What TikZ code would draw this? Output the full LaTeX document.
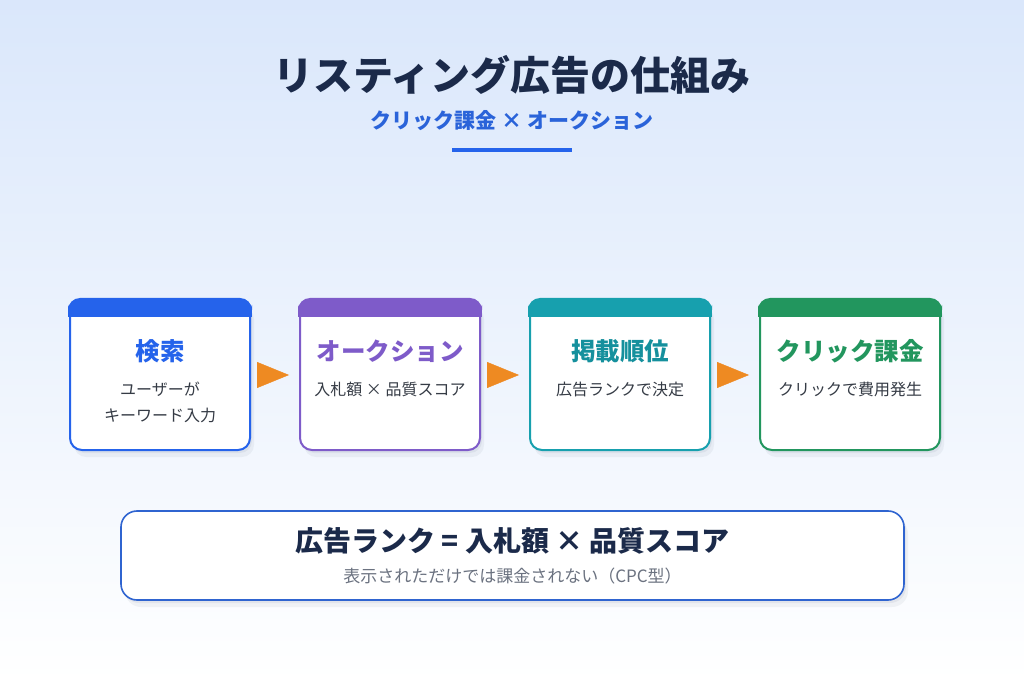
\documentclass[tikz,border=0pt]{standalone}
\usepackage{fontspec}
\setmainfont{Noto Sans CJK JP}
\usetikzlibrary{positioning,shadows,arrows.meta}

\definecolor{bgtop}{HTML}{DAE7FB}
\definecolor{cnavy}{HTML}{1B2A4A}
\definecolor{cblue}{HTML}{2563EB}
\definecolor{csub}{HTML}{2A63D9}
\definecolor{cpurple}{HTML}{7E5BC9}
\definecolor{cteal}{HTML}{17A0AE}
\definecolor{cgreen}{HTML}{22965E}
\definecolor{corange}{HTML}{EE8A22}
\definecolor{ctext}{HTML}{353B45}
\definecolor{cgray}{HTML}{6B7280}
\definecolor{cframe}{HTML}{2F64D0}

\begin{document}
\begin{tikzpicture}[
            x=1pt, y=1pt,
            soft shadow/.style={
                drop shadow={shadow xshift=2pt, shadow yshift=-3pt, opacity=0.06, fill=cnavy},
                drop shadow={shadow xshift=4pt, shadow yshift=-7pt, opacity=0.05, fill=cnavy}
            },
            card/.style={
                draw,
                line width=2pt,
                fill=white,
                rounded corners=12pt,
                minimum width=180pt,
                minimum height=150pt,
                inner sep=0pt,
                soft shadow
            },
            cardtitle/.style={font=\fontsize{24.5}{28}\selectfont\bfseries, inner sep=0pt},
            cardtext/.style={font=\fontsize{16}{26}\selectfont, text=ctext, align=center, inner sep=0pt, anchor=north},
            flowarrow/.style={draw=corange, fill=corange, -{Triangle[length=32pt, width=26pt]}}
        ]

            \shade[top color=bgtop, bottom color=white] (0,0) rectangle (1024,683);

            % heading
            \node[font=\fontsize{40}{44}\selectfont\bfseries, text=cnavy] (title) at (512,608) {リスティング広告の仕組み};
            \node[font=\fontsize{21}{24}\selectfont\bfseries, text=csub] (subtitle) at (512,562) {クリック課金 × オークション};
            \draw[cblue, line width=4pt] (452,533) -- (572,533);

            % flow cards
            \node[card, draw=cblue] (c1) at (160,308) {};
            \node[card, draw=cpurple] (c2) at (390,308) {};
            \node[card, draw=cteal] (c3) at (620,308) {};
            \node[card, draw=cgreen] (c4) at (850,308) {};

            \foreach \c/\col in {c1/cblue, c2/cpurple, c3/cteal, c4/cgreen} {
                \fill[\col, rounded corners=12pt] ([xshift=-1pt, yshift=1pt]\c.north west) rectangle ([xshift=1pt, yshift=-18pt]\c.north east);
                \fill[\col] ([xshift=-1pt, yshift=-8pt]\c.north west) rectangle ([xshift=1pt, yshift=-18pt]\c.north east);
            }

            \node[cardtitle, text=cblue] (t1) at ([yshift=-52pt]c1.north) {検索};
            \node[cardtitle, text=cpurple] (t2) at ([yshift=-52pt]c2.north) {オークション};
            \node[cardtitle, text=cteal!90!black] (t3) at ([yshift=-52pt]c3.north) {掲載順位};
            \node[cardtitle, text=cgreen] (t4) at ([yshift=-52pt]c4.north) {クリック課金};

            \node[cardtext] (s1) at ([yshift=-83pt]c1.north) {ユーザーが\\キーワード入力};
            \node[cardtext] (s2) at ([yshift=-83pt]c2.north) {入札額 × 品質スコア};
            \node[cardtext] (s3) at ([yshift=-83pt]c3.north) {広告ランクで決定};
            \node[cardtext] (s4) at ([yshift=-83pt]c4.north) {クリックで費用発生};

            \foreach \a/\b in {c1/c2, c2/c3, c3/c4}
                \draw[flowarrow] ([xshift=8pt]\a.east) -- ([xshift=-10pt]\b.west);

            % formula box
            \node[draw=cframe, line width=1.6pt, fill=white, rounded corners=16pt,
                minimum width=783pt, minimum height=89pt, soft shadow] (rank) at (512.5,127.5) {};
            \node[font=\fontsize{28}{32}\selectfont\bfseries, text=cnavy] (eq) at ([yshift=14.5pt]rank.center) {広告ランク = 入札額 × 品質スコア};
            \node[font=\fontsize{17}{20}\selectfont, text=cgray] (note) at ([yshift=-20.5pt]rank.center) {表示されただけでは課金されない（CPC型）};

        \end{tikzpicture}
\end{document}
